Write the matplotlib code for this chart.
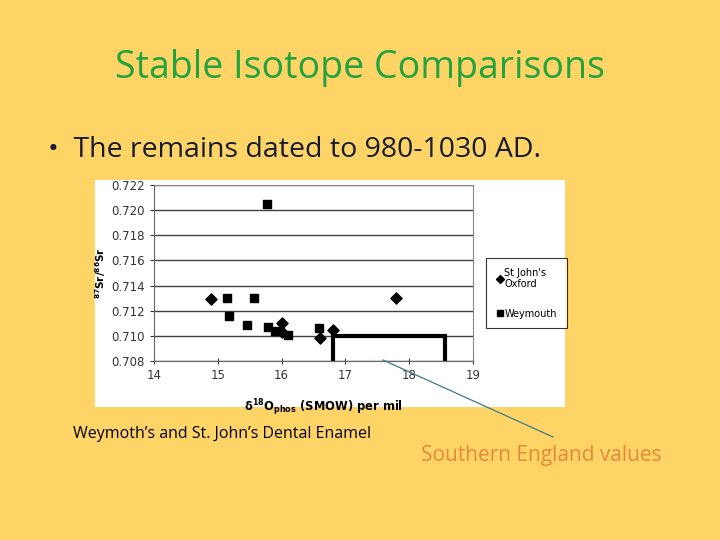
import matplotlib
matplotlib.use("Agg")
import matplotlib.pyplot as plt
from matplotlib.lines import Line2D

# data
stjohns_x = [14.90, 16.00, 16.01, 16.60, 16.80, 17.80]
stjohns_y = [0.7129, 0.7110, 0.7103, 0.7098, 0.7105, 0.7130]
weymouth_x = [15.14, 15.57, 15.18, 15.45, 15.77, 15.79, 15.90, 16.10, 16.58]
weymouth_y = [0.7130, 0.7130, 0.7116, 0.7109, 0.7205, 0.7107, 0.7104, 0.7101, 0.7106]
# southern England range box
box_x = [16.8, 18.56]
box_y = [0.708, 0.710]

x_ticks = [14, 15, 16, 17, 18, 19]
y_ticks = [0.708, 0.710, 0.712, 0.714, 0.716, 0.718, 0.720, 0.722]

W, H = 720, 540
bg = "#FFD466"
fig = plt.figure(figsize=(7.2, 5.4), dpi=100, facecolor=bg)


def fx(px):
    return px / W


def fy(py):
    return 1 - py / H


fig.text(0.5, fy(68), "Stable Isotope Comparisons", ha="center", va="center",
         fontsize=27, color="#22A33F", family="Open Sans")
fig.text(fx(48), fy(150), "•  The remains dated to 980-1030 AD.", ha="left", va="center",
         fontsize=20.5, color="#161B33", family="Open Sans")

# white chart panel
panel = fig.add_axes([fx(95), fy(407), fx(470), (407 - 180) / H])
panel.set_facecolor("white")
panel.set_xticks([])
panel.set_yticks([])
for s in panel.spines.values():
    s.set_visible(False)

ax = fig.add_axes([fx(154), fy(361), fx(473 - 154), (361 - 185) / H])
ax.set_facecolor("white")
ax.set_xlim(14, 19)
ax.set_ylim(0.708, 0.722)
ax.set_xticks(x_ticks)
ax.set_yticks(y_ticks)
ax.set_yticklabels([f"{v:.3f}" for v in y_ticks])
ax.tick_params(axis="both", labelsize=8.5, colors="#333333", length=3)
ax.tick_params(axis="x", direction="inout", length=5)
ax.grid(axis="y", color="#404040", linewidth=1)
ax.set_axisbelow(True)
for s in ["left", "bottom"]:
    ax.spines[s].set_color("#666666")
for s in ["top", "right"]:
    ax.spines[s].set_color("#888888")
    ax.spines[s].set_linewidth(0.8)

ax.scatter(stjohns_x, stjohns_y, marker="D", s=32, color="black", zorder=3)
ax.scatter(weymouth_x, weymouth_y, marker="s", s=26, color="black", zorder=3)
ax.plot([box_x[0], box_x[0], box_x[1], box_x[1]],
        [box_y[0], box_y[1], box_y[1], box_y[0]],
        color="black", linewidth=3, solid_joinstyle="miter", zorder=4)

ax.set_ylabel(r"$\mathbf{^{87}Sr/^{86}Sr}$", fontsize=7.5, fontweight="bold")
ax.yaxis.set_label_coords(-0.145, 0.5)
ax.set_xlabel(r"δ$\mathbf{^{18}O_{phos}}$ (SMOW) per mil", fontsize=8.3, fontweight="bold")
ax.xaxis.set_label_coords(0.53, -0.205)

handles = [
    Line2D([], [], marker="D", linestyle="none", color="black", markersize=4),
    Line2D([], [], marker="s", linestyle="none", color="black", markersize=5),
]
leg = fig.legend(handles, ["St John's\nOxford", "Weymouth"],
                 loc="upper left", bbox_to_anchor=(fx(486), fy(258)),
                 fontsize=7, frameon=True, fancybox=False, edgecolor="black",
                 handletextpad=0.1, handlelength=0.8, borderpad=1.0,
                 labelspacing=2.0, borderaxespad=0)
leg.get_frame().set_linewidth(0.8)

# callout line
fig.add_artist(Line2D([fx(383), fx(553)], [fy(360), fy(437)], color="#3B7B86", linewidth=0.9))

fig.text(fx(73), fy(434), "Weymoth’s and St. John’s Dental Enamel", ha="left", va="center",
         fontsize=11.5, color="black", family="Open Sans")
fig.text(fx(421), fy(455), "Southern England values", ha="left", va="center",
         fontsize=15, color="#E8893A", family="Open Sans")

fig.savefig("out.png", dpi=100, facecolor=bg)
